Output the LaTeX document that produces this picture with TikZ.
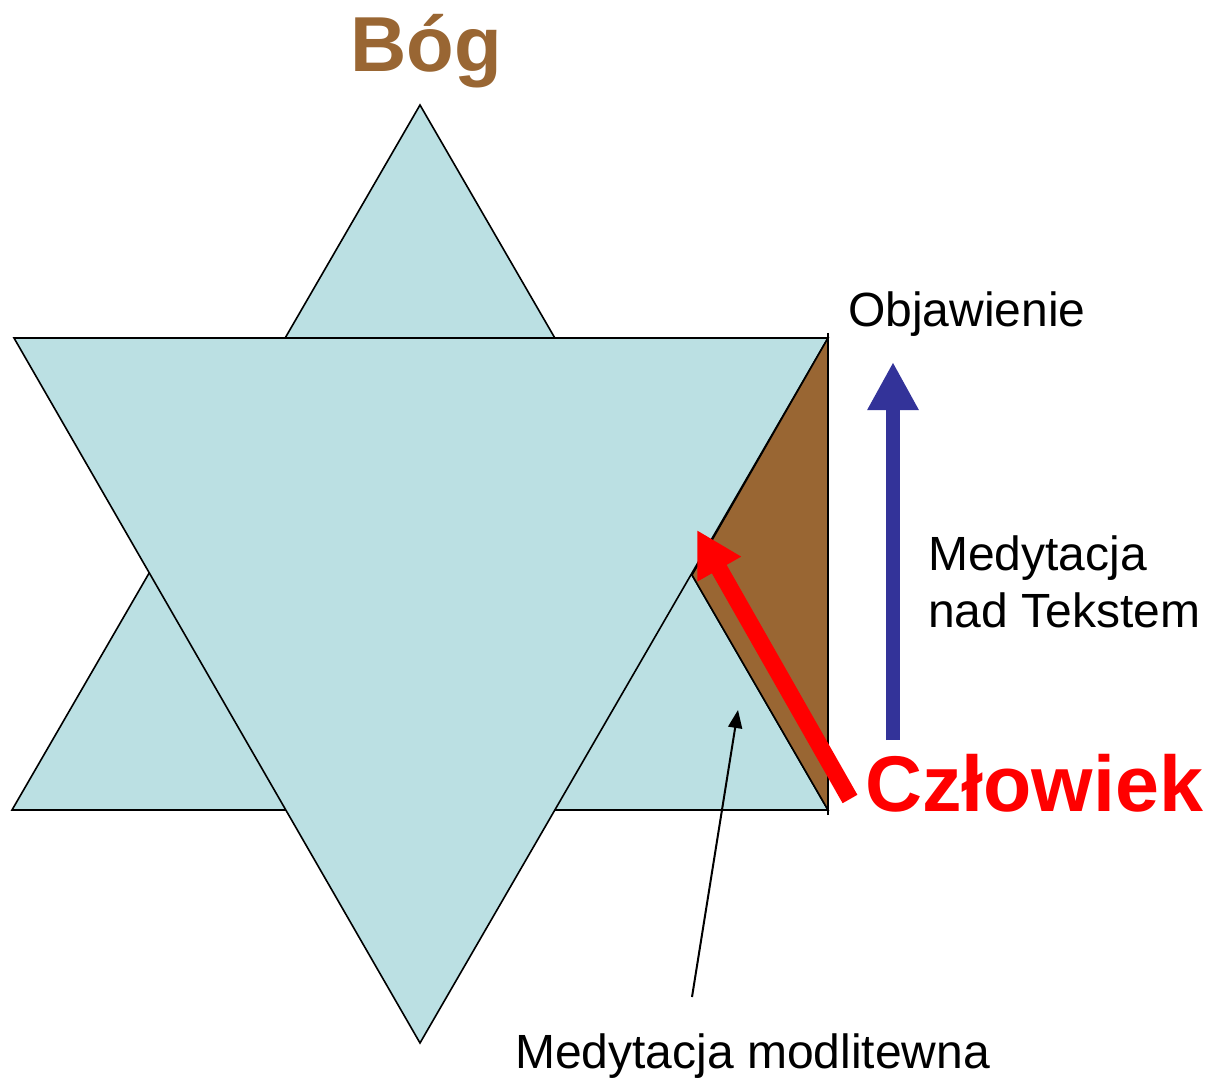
\documentclass[tikz,border=0pt]{standalone}
\usepackage{fontspec}
\setmainfont{Liberation Sans}
\usetikzlibrary{arrows.meta}
\definecolor{starblue}{HTML}{BBE0E3}
\definecolor{earth}{HTML}{996633}
\definecolor{revblue}{HTML}{333399}
\definecolor{redc}{HTML}{FF0000}
\begin{document}
\begin{tikzpicture}[x=1pt,y=-1pt,
  tri/.style={fill=starblue,draw=black,line width=1.6pt,line join=miter},
  plain/.style={font=\fontsize{48}{57}\selectfont,inner sep=0pt,anchor=base west,align=left},
  big/.style={font=\fontsize{78}{90}\selectfont\bfseries,inner sep=0pt,anchor=base}]
\useasboundingbox (0,0) rectangle (1216,1083);
% upward triangle
\draw[tri] (420,105) -- (828,810) -- (12,810) -- cycle;
% downward triangle
\draw[tri] (14,338) -- (828,338) -- (420,1043) -- cycle;
% brown region
\draw[fill=earth,draw=black,line width=1.6pt] (828,338) -- (692,575) -- (828,810) -- cycle;
\draw[black,line width=2pt] (828,333) -- (828,815);
% texts
\node[big,text=earth] (bog) at (426,72) {Bóg};
\node[plain] (obj) at (848,327) {Objawienie};
\node[plain] (med) at (928,627) {Medytacja\\nad Tekstem};
\node[big,text=redc,anchor=base west,font=\fontsize{79}{90}\selectfont\bfseries] (czl) at (865,811) {Człowiek};
\node[plain] (mod) at (515,1068) {Medytacja modlitewna};
% arrow coordinates
\coordinate (bt) at (893,740);
\coordinate (bh) at (893,362);
\coordinate (rt) at (850,799);
\coordinate (rh) at (697,530);
\coordinate (kt) at (692,997);
\coordinate (kh) at (738,710);
\draw[revblue,line width=14pt,-{Triangle[length=48pt,width=48pt]}] (bt) -- (bh);
\draw[redc,line width=17pt,-{Triangle[length=45pt,width=47pt]}] (rt) -- (rh);
\draw[black,line width=2pt,-{Triangle[length=18pt,width=14pt]}] (kt) -- (kh);
\end{tikzpicture}
\end{document}
